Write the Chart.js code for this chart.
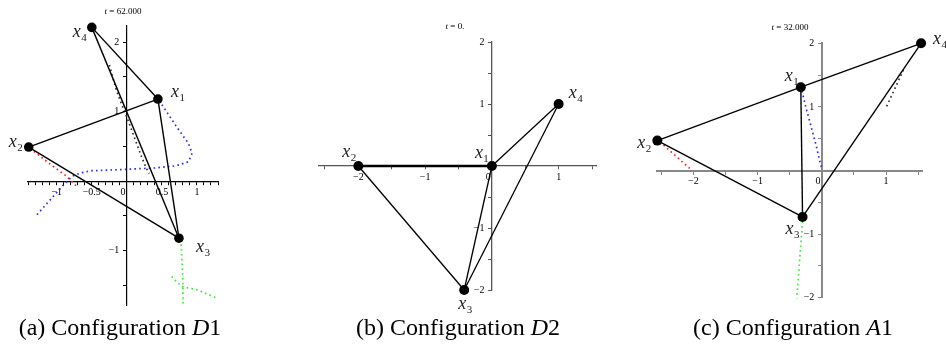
<!DOCTYPE html>
<html><head><meta charset="utf-8">
<script src="https://cdn.jsdelivr.net/npm/chart.js@4"></script>
<style>
body{margin:0;background:#fff;width:946px;height:350px;overflow:hidden;position:relative}
canvas{position:absolute;top:0}
.ttl{position:absolute;font-family:"Liberation Serif",serif;font-size:9px;white-space:nowrap;transform:translate(-50%,-50%);color:#000}
.cap{position:absolute;top:327px;font-family:"Liberation Serif",serif;font-size:24px;white-space:nowrap;transform:translate(-50%,-50%);color:#000}
</style></head><body>
<canvas id="ca" width="300" height="315" style="left:0px"></canvas>
<canvas id="cb" width="310" height="315" style="left:300px"></canvas>
<canvas id="cc" width="336" height="315" style="left:610px"></canvas>
<div class="ttl" style="left:123px;top:11px"><i>t</i> = 62.000</div>
<div class="ttl" style="left:455px;top:26px"><i>t</i> = 0.</div>
<div class="ttl" style="left:790px;top:27px"><i>t</i> = 32.000</div>
<div class="cap" style="left:120px">(a) Configuration <i>D</i>1</div>
<div class="cap" style="left:458px">(b) Configuration <i>D</i>2</div>
<div class="cap" style="left:793px">(c) Configuration <i>A</i>1</div>
<script>
// ---------- Panel (a): t = 62.000 ----------
const aPtX = [0.443, -1.40, 0.743, -0.50];   // x1..x4
const aPtY = [1.18, 0.49, -0.82, 2.21];
const aEdges = [[4,1],[4,3],[1,2],[1,3],[2,3]];
const aBlueX = [0.50, 0.71, 0.88, 0.93, 0.88, 0.70, 0.40, 0.00, -0.50, -0.65, -0.78, -0.90, -1.05, -1.29];
const aBlueY = [1.10, 0.78, 0.54, 0.40, 0.28, 0.22, 0.19, 0.17, 0.15, 0.12, 0.07, -0.05, -0.22, -0.49];
const aRedX = [-1.38, -1.10, -0.86, -0.70];
const aRedY = [0.47, 0.25, 0.07, -0.09];
const aBlackX = [-0.25, -0.15, -0.08, 0.00, 0.07, 0.14, 0.21, 0.28, 0.32];
const aBlackY = [1.67, 1.31, 1.12, 0.92, 0.73, 0.54, 0.35, 0.18, 0.11];
const aGreenX = [0.77, 0.79, 0.80, 0.80];
const aGreenY = [-0.84, -1.23, -1.47, -1.77];
const aGreen2X = [0.64, 0.71, 0.80, 1.00, 1.14, 1.28];
const aGreen2Y = [-1.37, -1.45, -1.52, -1.56, -1.62, -1.68];
const aXLabels = [-1, -0.5, 0, 0.5, 1];
const aYLabels = [-1, 1, 2];

// ---------- Panel (b): t = 0. ----------
const bPtX = [0, -2, -0.415, 1];
const bPtY = [0, 0, -2, 1];
const bEdges = [[2,1],[1,4],[2,3],[1,3],[3,4]];
const bXLabels = [-2, -1, 0, 1];
const bYLabels = [-2, -1, 1, 2];

// ---------- Panel (c): t = 32.000 ----------
const cPtX = [-0.327, -2.56, -0.30, 1.545];
const cPtY = [1.31, 0.47, -0.73, 2.0];
const cEdges = [[2,1],[1,4],[1,3],[2,3],[3,4]];
const cBlueX = [-0.31, -0.25, -0.17, -0.09, -0.02, 0.00];
const cBlueY = [1.25, 1.00, 0.70, 0.40, 0.10, 0.03];
const cRedX = [-2.52, -2.02];
const cRedY = [0.45, 0.00];
const cBlackX = [1.27, 1.00];
const cBlackY = [1.58, 0.99];
const cGreenX = [-0.30, -0.39];
const cGreenY = [-0.80, -2.01];
const cXLabels = [-2, -1, 0, 1];
const cYLabels = [-2, -1, 1, 2];

const pointNames = ['1','2','3','4'];

function zip(xs, ys){ return xs.map((x,i)=>({x:x, y:ys[i]})); }
function near(v, list){ return list.some(l => Math.abs(l - v) < 1e-6); }
function fmt(v){ return (v < 0 ? '\u2212' : '') + String(Math.abs(v)); }

function traj(xs, ys, color){
  return {type:'scatter', data: zip(xs, ys), showLine:true, borderColor:color, borderWidth:1.7,
    borderDash:[1.6,3.2], pointRadius:0, fill:false, order:3, clip:false};
}
function edgeSets(px, py, edges, widths){
  return edges.map((e,k)=>({type:'scatter', data:[{x:px[e[0]-1], y:py[e[0]-1]},{x:px[e[1]-1], y:py[e[1]-1]}],
    showLine:true, borderColor:'#000', borderWidth:(widths && widths[k]) || 1.4, pointRadius:0, order:2, clip:false}));
}
function ptSet(px, py, r){
  return {type:'scatter', data: zip(px, py), pointRadius:r, pointBackgroundColor:'#000', pointBorderColor:'#000',
    pointBorderWidth:0, showLine:false, order:1, clip:false};
}

const labelPlugin = {
  id:'ptLabels',
  afterDatasetsDraw(chart, args, opts){
    const ctx = chart.ctx, sx = chart.scales.x, sy = chart.scales.y;
    ctx.save();
    ctx.fillStyle = '#222';
    ctx.textBaseline = 'alphabetic';
    ctx.textAlign = 'left';
    opts.items.forEach((it, i) => {
      const px = sx.getPixelForValue(opts.xs[i]) + it[0];
      const py = sy.getPixelForValue(opts.ys[i]) + it[1];
      ctx.font = 'italic 18px "Liberation Serif", serif';
      ctx.fillText('x', px, py);
      const w = ctx.measureText('x').width;
      ctx.font = '11px "Liberation Serif", serif';
      ctx.fillText(pointNames[i], px + w + 0.5, py + 4);
    });
    ctx.restore();
  }
};

function axis(dir, min, max, step, labels, color, bw){
  return {
    type:'linear', min:min, max:max,
    position: dir === 'x' ? {y:0} : {x:0},
    border:{display:true, color:color, width:bw},
    grid:{drawOnChartArea:false, drawTicks:true, tickLength:3, color:color, lineWidth:1},
    ticks:{stepSize:step, autoSkip:false, includeBounds:false, maxRotation:0, minRotation:0,
      padding:2, color:'#000', font:{family:'"Liberation Serif", serif', size:10},
      callback:(v)=> {
        if (!near(v, labels)) return '';
        if (dir === 'y') return fmt(v) + '   ';
        return Math.abs(v) < 1e-9 ? '0   ' : fmt(v);
      }},
    afterFit:(s)=>{ if(dir==='x') s.height = 0; else s.width = 0; }
  };
}

function makeChart(id, datasets, pad, xr, yr, xStep, yStep, xl, yl, axColor, axW, lab){
  new Chart(document.getElementById(id), {
    data:{datasets:datasets},
    options:{
      responsive:false, animation:false, events:[],
      layout:{padding:pad},
      plugins:{legend:{display:false}, tooltip:{enabled:false}, ptLabels:lab},
      scales:{ x: axis('x', xr[0], xr[1], xStep, xl, axColor, axW),
               y: axis('y', yr[0], yr[1], yStep, yl, axColor, axW) }
    },
    plugins:[labelPlugin]
  });
}

// Panel a
makeChart('ca', [
  ptSet(aPtX, aPtY, 4.8),
  ...edgeSets(aPtX, aPtY, aEdges),
  traj(aBlueX, aBlueY, '#2a2aff'),
  traj(aRedX, aRedY, '#ff2020'),
  traj(aBlackX, aBlackY, '#333'),
  traj(aGreenX, aGreenY, '#33ee33'),
  traj(aGreen2X, aGreen2Y, '#33ee33')
], {left:28, right:82, top:26, bottom:10}, [-1.41, 1.30], [-1.78, 2.23], 0.1, 0.5, aXLabels, aYLabels, '#000', 1.2,
 {xs:aPtX, ys:aPtY, items:[[13,-2],[-20,0],[17,14],[-19,10]]});

// Panel b
makeChart('cb', [
  ptSet(bPtX, bPtY, 5),
  ...edgeSets(bPtX, bPtY, bEdges, [2.4,1.3,1.3,1.3,1.3])
], {left:18.3, right:13.3, top:42, bottom:25}, [-2.6, 1.57], [-2, 2], 0.5, 0.5, bXLabels, bYLabels, '#555', 1.3,
 {xs:bPtX, ys:bPtY, items:[[-17,-8],[-16,-9],[-6,19],[10,-6]]});

// Panel c
makeChart('cc', [
  ptSet(cPtX, cPtY, 5),
  ...edgeSets(cPtX, cPtY, cEdges),
  traj(cBlueX, cBlueY, '#2a2aff'),
  traj(cRedX, cRedY, '#ff2020'),
  traj(cBlackX, cBlackY, '#333'),
  traj(cGreenX, cGreenY, '#33ee33')
], {left:46.7, right:23.3, top:43.3, bottom:17.3}, [-2.57, 1.57], [-2, 2], 0.5, 0.5, cXLabels, cYLabels, '#888', 2,
 {xs:cPtX, ys:cPtY, items:[[-16,-6],[-20,7],[-17,17],[12,1]]});
</script>
</body></html>
